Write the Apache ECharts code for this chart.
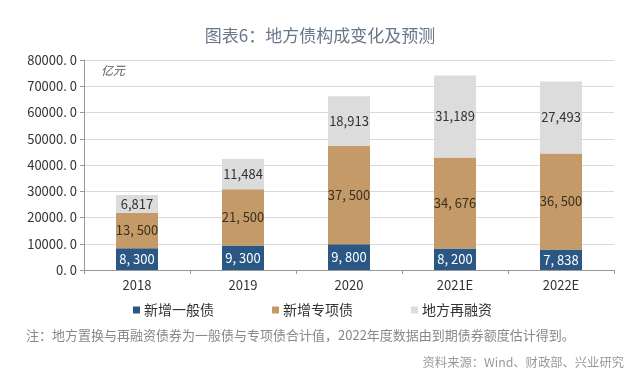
<!DOCTYPE html>
<html><head><meta charset="utf-8">
<script src="https://cdn.jsdelivr.net/npm/echarts@6/dist/echarts.min.js"></script>
<style>html,body{margin:0;padding:0;background:#fff}#c{width:640px;height:385px}</style>
</head><body><div id="c"></div>
<script>
const categories = ['2018', '2019', '2020', '2021E', '2022E'];
const generalBond = [8300, 9300, 9800, 8200, 7838];
const specialBond = [13500, 21500, 37500, 34676, 36500];
const refinancing = [6817, 11484, 18913, 31189, 27493];
const seriesNames = ['新增一般债', '新增专项债', '地方再融资'];
const yTicks = [0, 10000, 20000, 30000, 40000, 50000, 60000, 70000, 80000];

const chart = echarts.init(document.getElementById('c'));
const font = '"Noto Sans CJK SC", "Noto Sans", sans-serif';
function spaced(v){ return v.toLocaleString('en-US').replace(',', ', '); }
function plain(v){ return v.toLocaleString('en-US'); }
chart.setOption({
  animation: false,
  textStyle: { fontFamily: font },
  title: [
    { text: '图表6：地方债构成变化及预测', left: 'center', top: 22,
      textStyle: { fontSize: 17, fontWeight: 'normal', color: '#667788', fontFamily: font } },
    { text: '亿元', left: 96, top: 59,
      textStyle: { fontSize: 12, fontWeight: 'normal', fontStyle: 'italic', color: '#555', fontFamily: font } },
    { text: '注：地方置换与再融资债券为一般债与专项债合计值，2022年度数据由到期债券额度估计得到。', left: 21, top: 324,
      textStyle: { fontSize: 13, fontWeight: 'normal', color: '#888', fontFamily: font } },
    { text: '资料来源：Wind、财政部、兴业研究', right: 11, top: 351,
      textStyle: { fontSize: 12.3, fontWeight: 'normal', color: '#999', fontFamily: font } }
  ],
  legend: {
    data: seriesNames, top: 298, left: 128, itemGap: 58,
    itemWidth: 7, itemHeight: 7, icon: 'rect',
    textStyle: { fontSize: 14, color: '#333', fontFamily: font, padding: [0, 0, 0, -1] }
  },
  grid: { left: 84, right: 26, top: 60, bottom: 115 },
  xAxis: {
    type: 'category', data: categories,
    axisLine: { lineStyle: { color: '#999' } },
    axisTick: { show: true, alignWithLabel: false, length: 4, lineStyle: { color: '#999' } },
    axisLabel: { color: '#333', fontSize: 13, margin: 9 }
  },
  yAxis: {
    type: 'value', min: 0, max: 80000, interval: 10000,
    axisLine: { show: true, lineStyle: { color: '#999' } },
    axisTick: { show: true, length: 4, lineStyle: { color: '#999' } },
    splitLine: { lineStyle: { color: '#d9d9d9' } },
    axisLabel: { color: '#333', fontSize: 13, margin: 7,
      formatter: v => yTicks.includes(v) ? v + '. 0' : '' }
  },
  series: [
    { name: seriesNames[0], type: 'bar', stack: 's', data: generalBond, barWidth: 42,
      itemStyle: { color: '#2b5784' },
      label: { show: true, position: 'inside', color: '#fff', fontSize: 13, formatter: p => spaced(p.value) } },
    { name: seriesNames[1], type: 'bar', stack: 's', data: specialBond, barWidth: 42,
      itemStyle: { color: '#c49a68' },
      label: { show: true, position: 'inside', color: '#3a3020', fontSize: 13, formatter: p => spaced(p.value) } },
    { name: seriesNames[2], type: 'bar', stack: 's', data: refinancing, barWidth: 42,
      itemStyle: { color: '#dcdcdc' },
      label: { show: true, position: 'inside', color: '#333', fontSize: 13, formatter: p => plain(p.value) } }
  ]
});
</script></body></html>
